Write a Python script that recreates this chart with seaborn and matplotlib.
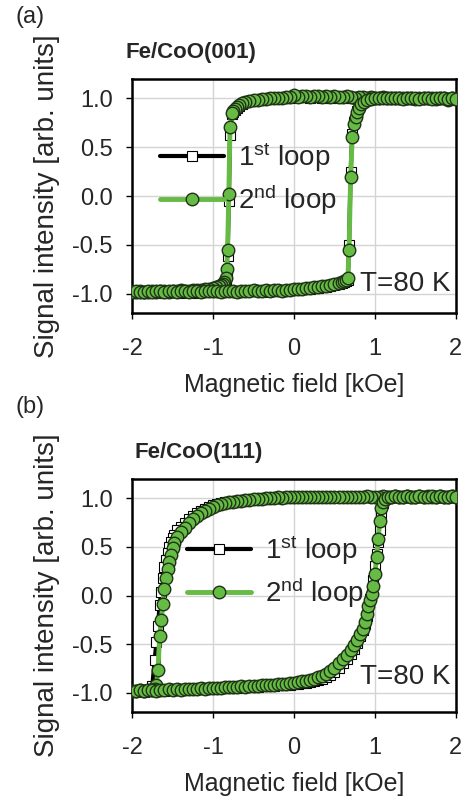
"""
Hysteresis loops of Fe/CoO(001) and Fe/CoO(111) at T=80 K, two panels.
"""

import matplotlib
matplotlib.use("Agg")
import matplotlib.pyplot as plt
import pandas as pd
import seaborn as sns

# ---- panel (a): Fe/CoO(001) ----
A_FIELD_DOWN = [
    2.0, 1.95, 1.9, 1.85, 1.8, 1.75, 1.7, 1.65, 1.6, 1.55,
    1.5, 1.45, 1.4, 1.35, 1.3, 1.25, 1.2, 1.15, 1.1, 1.05,
    1.0, 0.95, 0.9, 0.85, 0.8, 0.75, 0.7, 0.65, 0.6, 0.55,
    0.5, 0.45, 0.4, 0.35, 0.3, 0.25, 0.2, 0.15, 0.1, 0.05,
    0.0, -0.05, -0.1, -0.15, -0.2, -0.25, -0.3, -0.35, -0.4, -0.45,
    -0.5, -0.55, -0.6, -0.64, -0.68, -0.71, -0.73, -0.75, -0.77, -0.79,
    -0.805, -0.82, -0.83, -0.845, -0.86, -0.88, -0.9, -0.93, -0.96, -1.0,
    -1.05, -1.1, -1.15, -1.2, -1.25, -1.3, -1.35, -1.4, -1.45, -1.5,
    -1.55, -1.6, -1.65, -1.7, -1.75, -1.8, -1.85, -1.9, -1.95, -2.0,
]
A_LOOP1_DOWN = [
    0.98, 0.99, 0.99, 1.00, 0.99, 1.00, 1.00, 0.99, 1.00, 1.00,
    1.00, 1.00, 0.99, 1.00, 1.00, 1.00, 1.01, 1.00, 1.01, 1.00,
    1.00, 1.01, 1.00, 1.01, 1.01, 1.01, 1.01, 1.02, 1.01, 1.01,
    1.02, 1.01, 1.02, 1.01, 1.02, 1.02, 1.01, 1.02, 1.02, 1.02,
    1.02, 1.01, 1.01, 1.01, 1.00, 1.00, 0.99, 0.99, 0.98, 0.98,
    0.97, 0.97, 0.96, 0.94, 0.92, 0.90, 0.88, 0.86, 0.84, 0.63,
    -0.05, -0.62, -0.80, -0.87, -0.90, -0.92, -0.93, -0.94, -0.95, -0.95,
    -0.96, -0.96, -0.97, -0.97, -0.97, -0.98, -0.97, -0.98, -0.98, -0.98,
    -0.98, -0.99, -0.98, -0.98, -0.99, -0.98, -0.99, -0.99, -0.98, -0.99,
]
A_LOOP2_DOWN = [
    0.99, 1.00, 0.98, 1.00, 1.01, 0.99, 1.00, 1.00, 1.01, 1.00,
    0.99, 1.01, 1.00, 1.01, 1.00, 1.01, 1.01, 1.00, 1.02, 1.01,
    1.01, 1.02, 1.01, 1.02, 1.02, 1.01, 1.02, 1.03, 1.02, 1.02,
    1.03, 1.02, 1.03, 1.02, 1.03, 1.03, 1.02, 1.03, 1.03, 1.02,
    1.04, 1.02, 1.02, 1.01, 1.01, 1.00, 1.00, 0.99, 0.99, 0.98,
    0.98, 0.97, 0.96, 0.95, 0.93, 0.91, 0.89, 0.87, 0.85, 0.71,
    0.02, -0.55, -0.75, -0.84, -0.88, -0.90, -0.91, -0.92, -0.93, -0.94,
    -0.95, -0.95, -0.96, -0.96, -0.96, -0.97, -0.97, -0.96, -0.97, -0.97,
    -0.98, -0.97, -0.97, -0.98, -0.97, -0.98, -0.98, -0.97, -0.98, -0.98,
]
A_FIELD_UP = [
    -2.0, -1.95, -1.9, -1.85, -1.8, -1.75, -1.7, -1.65, -1.6, -1.55,
    -1.5, -1.45, -1.4, -1.35, -1.3, -1.25, -1.2, -1.15, -1.1, -1.05,
    -1.0, -0.95, -0.9, -0.85, -0.8, -0.75, -0.7, -0.65, -0.6, -0.55,
    -0.5, -0.45, -0.4, -0.35, -0.3, -0.25, -0.2, -0.15, -0.1, -0.05,
    0.0, 0.05, 0.1, 0.15, 0.2, 0.25, 0.3, 0.35, 0.4, 0.45,
    0.5, 0.55, 0.59, 0.62, 0.645, 0.665, 0.68, 0.7, 0.72, 0.74,
    0.76, 0.78, 0.8, 0.83, 0.86, 0.9, 0.95, 1.0, 1.05, 1.1,
    1.15, 1.2, 1.25, 1.3, 1.35, 1.4, 1.45, 1.5, 1.55, 1.6,
    1.65, 1.7, 1.75, 1.8, 1.85, 1.9, 1.95, 2.0,
]
A_LOOP1_UP = [
    -0.99, -0.98, -0.99, -0.98, -0.98, -0.99, -0.98, -0.98, -0.99, -0.98,
    -0.98, -0.98, -0.99, -0.98, -0.98, -0.98, -0.99, -0.98, -0.98, -0.98,
    -0.98, -0.98, -0.98, -0.98, -0.97, -0.98, -0.98, -0.97, -0.98, -0.97,
    -0.97, -0.97, -0.98, -0.97, -0.97, -0.97, -0.97, -0.96, -0.97, -0.96,
    -0.96, -0.96, -0.95, -0.95, -0.95, -0.94, -0.94, -0.93, -0.93, -0.92,
    -0.91, -0.90, -0.89, -0.88, -0.87, -0.86, -0.50, 0.25, 0.64, 0.76,
    0.82, 0.87, 0.91, 0.95, 0.97, 0.98, 0.99, 0.99, 1.00, 1.00,
    0.99, 1.00, 1.00, 0.99, 0.99, 1.00, 1.00, 0.99, 0.99, 1.00,
    0.99, 0.99, 1.00, 1.00, 0.99, 0.99, 0.99, 0.98,
]
A_LOOP2_UP = [
    -0.98, -0.97, -0.98, -0.98, -0.97, -0.98, -0.97, -0.97, -0.98, -0.97,
    -0.97, -0.98, -0.97, -0.97, -0.98, -0.97, -0.97, -0.98, -0.97, -0.97,
    -0.97, -0.97, -0.98, -0.97, -0.97, -0.97, -0.98, -0.97, -0.97, -0.97,
    -0.96, -0.97, -0.97, -0.96, -0.97, -0.96, -0.96, -0.97, -0.96, -0.96,
    -0.95, -0.95, -0.95, -0.94, -0.94, -0.93, -0.93, -0.92, -0.92, -0.91,
    -0.90, -0.89, -0.88, -0.87, -0.86, -0.84, -0.55, 0.20, 0.61, 0.74,
    0.81, 0.86, 0.90, 0.94, 0.96, 0.98, 0.99, 1.00, 1.01, 1.00,
    1.00, 1.01, 1.00, 1.00, 0.99, 1.00, 1.01, 1.00, 0.99, 1.00,
    1.00, 0.99, 1.00, 1.01, 1.00, 0.99, 1.00, 0.99,
]

# ---- panel (b): Fe/CoO(111) ----
B_FIELD_DOWN = [
    2.0, 1.95, 1.9, 1.85, 1.8, 1.75, 1.7, 1.65, 1.6, 1.55,
    1.5, 1.45, 1.4, 1.35, 1.3, 1.25, 1.2, 1.15, 1.1, 1.05,
    1.0, 0.95, 0.9, 0.85, 0.8, 0.75, 0.7, 0.65, 0.6, 0.55,
    0.5, 0.45, 0.4, 0.35, 0.3, 0.25, 0.2, 0.15, 0.1, 0.05,
    0.0, -0.05, -0.1, -0.15, -0.2, -0.25, -0.3, -0.35, -0.4, -0.45,
    -0.5, -0.55, -0.6, -0.65, -0.7, -0.75, -0.8, -0.85, -0.9, -0.95,
    -1.0, -1.05, -1.1, -1.15, -1.2, -1.25, -1.3, -1.35, -1.4, -1.44,
    -1.48, -1.5, -1.52, -1.54, -1.56, -1.58, -1.6, -1.62, -1.64, -1.66,
    -1.68, -1.7, -1.72, -1.75, -1.8, -1.85, -1.9, -1.95, -2.0,
]
B_LOOP1_DOWN = [
    1.02, 1.02, 1.03, 1.02, 1.02, 1.02, 1.03, 1.02, 1.02, 1.02,
    1.03, 1.02, 1.02, 1.02, 1.03, 1.02, 1.02, 1.03, 1.02, 1.02,
    1.02, 1.02, 1.02, 1.02, 1.01, 1.02, 1.02, 1.01, 1.02, 1.01,
    1.02, 1.01, 1.01, 1.02, 1.01, 1.01, 1.01, 1.01, 1.01, 1.00,
    1.01, 1.00, 1.01, 1.00, 1.00, 1.00, 1.00, 0.99, 0.99, 0.99,
    0.99, 0.98, 0.98, 0.98, 0.97, 0.97, 0.96, 0.96, 0.95, 0.94,
    0.93, 0.91, 0.89, 0.87, 0.85, 0.82, 0.79, 0.75, 0.71, 0.67,
    0.62, 0.59, 0.55, 0.50, 0.44, 0.37, 0.29, 0.18, 0.04, -0.10,
    -0.31, -0.48, -0.66, -0.93, -0.97, -0.98, -0.98, -0.98, -0.99,
]
B_LOOP2_DOWN = [
    1.02, 1.03, 1.02, 1.02, 1.03, 1.02, 1.02, 1.03, 1.02, 1.03,
    1.02, 1.02, 1.03, 1.02, 1.02, 1.03, 1.02, 1.02, 1.03, 1.02,
    1.02, 1.02, 1.03, 1.02, 1.02, 1.02, 1.01, 1.02, 1.02, 1.02,
    1.01, 1.02, 1.02, 1.01, 1.02, 1.01, 1.01, 1.02, 1.01, 1.01,
    1.01, 1.01, 1.01, 1.00, 1.01, 1.00, 1.00, 1.00, 0.99, 0.99,
    0.99, 0.98, 0.98, 0.97, 0.97, 0.96, 0.96, 0.95, 0.94, 0.93,
    0.91, 0.89, 0.87, 0.85, 0.82, 0.79, 0.75, 0.70, 0.65, 0.60,
    0.54, 0.49, 0.42, 0.35, 0.27, 0.18, 0.07, -0.09, -0.25, -0.42,
    -0.77, -0.92, -0.96, -0.97, -0.97, -0.98, -0.97, -0.98, -0.98,
]
B_FIELD_UP = [
    -2.0, -1.95, -1.9, -1.85, -1.8, -1.75, -1.7, -1.65, -1.6, -1.55,
    -1.5, -1.45, -1.4, -1.35, -1.3, -1.25, -1.2, -1.15, -1.1, -1.05,
    -1.0, -0.95, -0.9, -0.85, -0.8, -0.75, -0.7, -0.65, -0.6, -0.55,
    -0.5, -0.45, -0.4, -0.35, -0.3, -0.25, -0.2, -0.15, -0.1, -0.05,
    0.0, 0.05, 0.1, 0.15, 0.2, 0.25, 0.3, 0.35, 0.4, 0.45,
    0.5, 0.55, 0.6, 0.65, 0.7, 0.74, 0.78, 0.82, 0.85, 0.88,
    0.9, 0.92, 0.94, 0.96, 0.98, 1.0, 1.02, 1.04, 1.06, 1.08,
    1.1, 1.13, 1.16, 1.2, 1.25, 1.3, 1.35, 1.4, 1.45, 1.5,
    1.55, 1.6, 1.65, 1.7, 1.75, 1.8, 1.85, 1.9, 1.95, 2.0,
]
B_LOOP1_UP = [
    -0.99, -0.98, -0.98, -0.99, -0.98, -0.98, -0.98, -0.97, -0.98, -0.97,
    -0.97, -0.97, -0.97, -0.97, -0.96, -0.97, -0.96, -0.96, -0.96, -0.96,
    -0.96, -0.96, -0.95, -0.95, -0.95, -0.95, -0.95, -0.94, -0.94, -0.94,
    -0.94, -0.94, -0.93, -0.93, -0.93, -0.93, -0.92, -0.92, -0.92, -0.92,
    -0.91, -0.91, -0.90, -0.90, -0.89, -0.88, -0.87, -0.86, -0.84, -0.82,
    -0.79, -0.75, -0.70, -0.65, -0.60, -0.55, -0.49, -0.42, -0.36, -0.29,
    -0.21, -0.12, -0.04, 0.05, 0.16, 0.30, 0.43, 0.55, 0.67, 0.85,
    0.95, 0.99, 1.01, 1.02, 1.02, 1.03, 1.02, 1.02, 1.02, 1.03,
    1.02, 1.02, 1.03, 1.02, 1.02, 1.02, 1.03, 1.02, 1.02, 1.02,
]
B_LOOP2_UP = [
    -0.98, -0.98, -0.97, -0.98, -0.97, -0.97, -0.98, -0.97, -0.97, -0.96,
    -0.97, -0.96, -0.97, -0.96, -0.96, -0.96, -0.96, -0.95, -0.96, -0.95,
    -0.95, -0.95, -0.95, -0.94, -0.94, -0.94, -0.94, -0.93, -0.94, -0.93,
    -0.93, -0.93, -0.92, -0.92, -0.92, -0.92, -0.91, -0.91, -0.91, -0.90,
    -0.90, -0.89, -0.88, -0.88, -0.87, -0.86, -0.84, -0.83, -0.81, -0.78,
    -0.75, -0.70, -0.65, -0.61, -0.56, -0.51, -0.46, -0.40, -0.34, -0.27,
    -0.19, -0.11, -0.05, 0.02, 0.10, 0.22, 0.40, 0.58, 0.77, 0.90,
    0.96, 0.99, 1.01, 1.02, 1.03, 1.02, 1.02, 1.03, 1.02, 1.02,
    1.03, 1.02, 1.02, 1.03, 1.02, 1.03, 1.02, 1.02, 1.03, 1.02,
]

LOOP_LABELS = [r"1$^{\mathrm{st}}$ loop", r"2$^{\mathrm{nd}}$ loop"]
X_TICKS = [-2, -1, 0, 1, 2]
Y_TICKS = [-1.0, -0.5, 0.0, 0.5, 1.0]

GREEN = "#66bb44"
GREEN_EDGE = "#1f3316"

sns.set_style("whitegrid", {
    "axes.edgecolor": "black",
    "grid.color": "#d4d4d4",
    "xtick.bottom": True,
    "ytick.left": True,
})
plt.rcParams['font.family'] = ['Liberation Sans', 'DejaVu Sans']
plt.rcParams['mathtext.fontset'] = 'custom'
plt.rcParams['mathtext.rm'] = 'Liberation Sans'
plt.rcParams['mathtext.it'] = 'Liberation Sans:italic'
plt.rcParams['mathtext.bf'] = 'Liberation Sans:bold'


def loop_frame(field_down, sig_down, field_up, sig_up):
    return pd.DataFrame({
        "field": field_down + field_up,
        "signal": sig_down + sig_up,
    })


def draw_panel(ax, loop1, loop2, title, title_x, legend_anchor, temp_y):
    sns.lineplot(data=loop1, x="field", y="signal", sort=False, estimator=None,
                 ax=ax, color="black", linewidth=3.0, marker="s", markersize=7,
                 markerfacecolor="white", markeredgecolor="black",
                 markeredgewidth=0.8, label=LOOP_LABELS[0], zorder=3)
    sns.lineplot(data=loop2, x="field", y="signal", sort=False, estimator=None,
                 ax=ax, color=GREEN, linewidth=3.5, marker="o", markersize=9,
                 markerfacecolor=GREEN, markeredgecolor=GREEN_EDGE,
                 markeredgewidth=1.0, label=LOOP_LABELS[1], zorder=4)

    ax.set_xlim(-2, 2)
    ax.set_ylim(-1.2, 1.2)
    ax.set_xticks(X_TICKS)
    ax.set_xticklabels([str(t) for t in X_TICKS])
    ax.set_yticks(Y_TICKS)
    ax.set_yticklabels([f"{t:.1f}" for t in Y_TICKS])
    ax.tick_params(axis="both", direction="out", length=4, width=1,
                   color="black", labelsize=17)
    ax.tick_params(axis="x", pad=14)
    ax.tick_params(axis="y", pad=10)
    ax.grid(True, linewidth=1.0)
    for spine in ax.spines.values():
        spine.set_linewidth(1.8)
        spine.set_color("black")

    ax.set_xlabel("Magnetic field [kOe]", fontsize=18, labelpad=9)
    ax.set_ylabel("Signal intensity [arb. units]", fontsize=20, labelpad=9)

    ax.text(title_x, 1.115, title, transform=ax.transAxes, fontsize=16,
            fontweight="bold", ha="left", va="center")
    ax.text(1.93, temp_y, "T=80 K", fontsize=20, ha="right", va="center",
            zorder=5)

    ax.legend(loc="center left", bbox_to_anchor=legend_anchor, frameon=False,
              fontsize=20, handlelength=2.3, handletextpad=0.5,
              labelspacing=0.3, borderpad=0, borderaxespad=0)


fig = plt.figure(figsize=(4.7, 8.02), dpi=100)
ax_a = fig.add_axes([0.281, 0.6097, 0.689, 0.2918])
ax_b = fig.add_axes([0.281, 0.1122, 0.689, 0.2905])

draw_panel(ax_a,
           loop_frame(A_FIELD_DOWN, A_LOOP1_DOWN, A_FIELD_UP, A_LOOP1_UP),
           loop_frame(A_FIELD_DOWN, A_LOOP2_DOWN, A_FIELD_UP, A_LOOP2_UP),
           "Fe/CoO(001)", -0.019, (0.086, 0.575), -0.90)
draw_panel(ax_b,
           loop_frame(B_FIELD_DOWN, B_LOOP1_DOWN, B_FIELD_UP, B_LOOP1_UP),
           loop_frame(B_FIELD_DOWN, B_LOOP2_DOWN, B_FIELD_UP, B_LOOP2_UP),
           "Fe/CoO(111)", 0.009, (0.17, 0.603), -0.84)

fig.text(0.032, 0.979, "(a)", fontsize=17, ha="left", va="center")
fig.text(0.032, 0.4925, "(b)", fontsize=17, ha="left", va="center")

plt.savefig("out.png", dpi=100)
plt.close()
